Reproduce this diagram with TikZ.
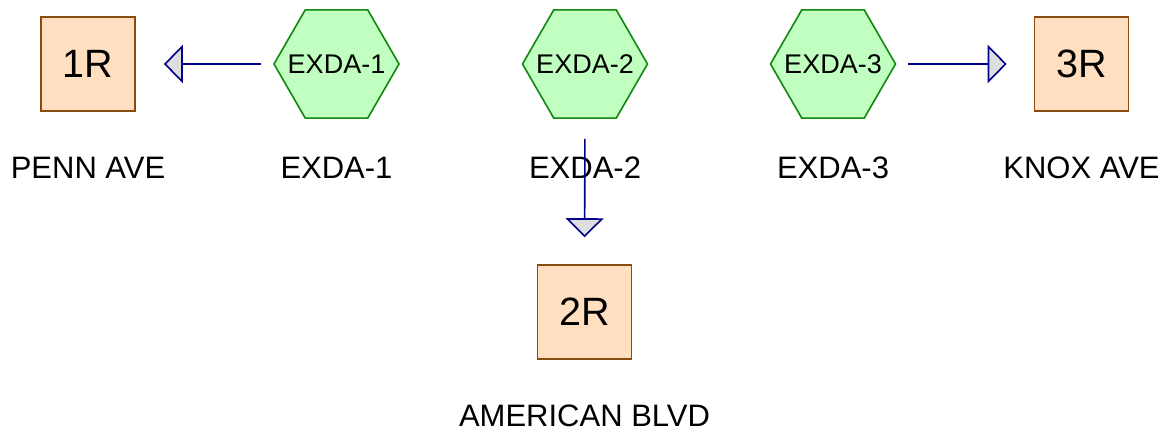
\documentclass[tikz,border=0pt]{standalone}
\usepackage{fontspec}
\setmainfont{Liberation Sans}
\usetikzlibrary{shapes.geometric,arrows.meta}
\definecolor{boxfill}{HTML}{FFDFC0}
\definecolor{boxline}{HTML}{8B4A10}
\definecolor{hexfill}{HTML}{C0FFC0}
\definecolor{hexline}{HTML}{108810}
\definecolor{flow}{HTML}{000088}
% zero-size label so the hexagon keeps its given size
\newcommand\hexlabel[1]{\smash{\makebox[0pt]{\raisebox{-0.358em}{#1}}}}
\tikzset{
  site/.style={draw=boxline, fill=boxfill, line width=1.6pt, minimum size=94pt,
    inner sep=0pt, font=\fontsize{39.5}{46}\selectfont},
  hexnode/.style={regular polygon, regular polygon sides=6, draw=hexline,
    fill=hexfill, line width=1.6pt, minimum size=125pt, inner sep=0pt,
    font=\fontsize{27}{32}\selectfont},
  caption/.style={anchor=base, inner sep=0pt, font=\fontsize{31}{37}\selectfont},
  flowline/.style={draw=flow, line width=1.6pt,
    -{Triangle[length=19pt,width=38pt,fill=black!13]}}
}
\begin{document}
\begin{tikzpicture}
\useasboundingbox (0,0) rectangle (1169pt,-434pt);
% discharge sites
\node[site] (r1) at (88pt,-64pt) {1R};
\node[site] (r2) at (584.5pt,-312pt) {2R};
\node[site] (r3) at (1081.5pt,-64pt) {3R};
% drainage areas
\node[hexnode] (d1) at (336.5pt,-64pt) {\hexlabel{EXDA-1}};
\node[hexnode] (d2) at (585pt,-64pt) {\hexlabel{EXDA-2}};
\node[hexnode] (d3) at (833pt,-64pt) {\hexlabel{EXDA-3}};
% captions
\node[caption] (l1) at (88pt,-178pt) {PENN AVE};
\node[caption] (l2) at (336.5pt,-178pt) {EXDA-1};
\node[caption] (l3) at (585pt,-178pt) {EXDA-2};
\node[caption] (l4) at (833pt,-178pt) {EXDA-3};
\node[caption] (l5) at (1081.5pt,-178pt) {KNOX AVE};
\node[caption] (l6) at (584.5pt,-426pt) {AMERICAN BLVD};
% flows
\draw[flowline, shorten <=12pt, shorten >=28pt] (d1.west) -- (r1.east);
\draw[flowline, shorten <=20pt, shorten >=27pt] (d2.south) -- (r2.north);
\draw[flowline, shorten <=12pt, shorten >=27pt] (d3.east) -- (r3.west);
\end{tikzpicture}
\end{document}
